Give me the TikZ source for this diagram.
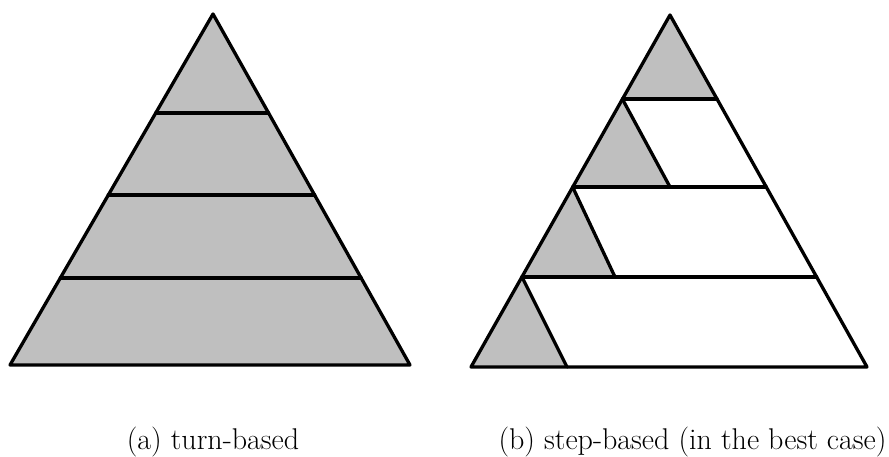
\documentclass[tikz,border=0pt]{standalone}
\usetikzlibrary{calc}
\definecolor{pyrgrey}{gray}{0.75}
\tikzset{
  layer/.style={line width=3.3pt, line cap=round, line join=round},
  caption/.style={font=\fontsize{30}{34}\selectfont, inner sep=0pt, anchor=base}
}

\begin{document}
\begin{tikzpicture}%
  [x=1pt, y=-1pt, text=black]
  \useasboundingbox (0,0) rectangle (889,457);

  % (a) turn-based
  \coordinate (LA) at (213,14);
  \coordinate (LL) at (10,365);
  \coordinate (LR) at (410,365);
  \fill[pyrgrey] (LA) -- (LL) -- (LR) -- cycle;
  \foreach \t in {0.282,0.516,0.752}
    \draw[layer] ($(LA)!\t!(LL)$) -- ($(LA)!\t!(LR)$);
  \draw[layer] (LA) -- (LL) -- (LR) -- cycle;

  % (b) step-based
  \coordinate (RA) at (670,15);
  \coordinate (RL) at (471,367);
  \coordinate (RR) at (867,367);
  \coordinate (P1) at ($(RA)!0.239!(RL)$);
  \coordinate (Q1) at ($(RA)!0.239!(RR)$);
  \coordinate (P2) at ($(RA)!0.489!(RL)$);
  \coordinate (Q2) at ($(RA)!0.489!(RR)$);
  \coordinate (P3) at ($(RA)!0.744!(RL)$);
  \coordinate (Q3) at ($(RA)!0.744!(RR)$);
  \coordinate (F2) at (670,187);
  \coordinate (F3) at (615,277);
  \coordinate (F4) at (567,367);

  \fill[pyrgrey] (RA) -- (P1) -- (Q1) -- cycle;
  \fill[pyrgrey] (P1) -- (P2) -- (F2) -- cycle;
  \fill[pyrgrey] (P2) -- (P3) -- (F3) -- cycle;
  \fill[pyrgrey] (P3) -- (RL) -- (F4) -- cycle;

  \draw[layer] (P1) -- (Q1);
  \draw[layer] (P2) -- (Q2);
  \draw[layer] (P3) -- (Q3);
  \draw[layer] (P1) -- (F2);
  \draw[layer] (P2) -- (F3);
  \draw[layer] (P3) -- (F4);
  \draw[layer] (RA) -- (RL) -- (RR) -- cycle;

  \node (capa) [caption] at (213,449) {(a) turn-based};
  \node (capb) [caption] at (692.5,449) {(b) step-based (in the best case)};

\end{tikzpicture}
\end{document}
